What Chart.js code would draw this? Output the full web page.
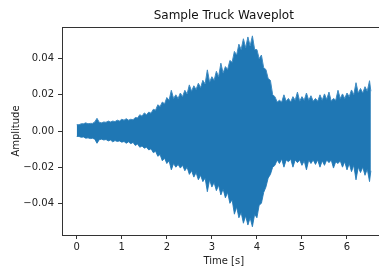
<!DOCTYPE html>
<html>
<head>
<meta charset="utf-8">
<script src="https://cdn.jsdelivr.net/npm/chart.js@4/dist/chart.umd.min.js"></script>
<style>
html,body{margin:0;padding:0;background:#fff;overflow:hidden;width:379px;height:268px;}
#wrap{position:absolute;left:0;top:0;width:390px;height:268px;}
</style>
</head>
<body>
<div id="wrap"><canvas id="c" width="390" height="268"></canvas></div>
<script>
const times = [0.00,0.05,0.10,0.15,0.20,0.25,0.30,0.35,0.40,0.45,0.50,0.55,0.60,0.65,0.70,0.75,0.80,0.85,0.90,0.95,
1.00,1.05,1.10,1.15,1.20,1.25,1.30,1.35,1.40,1.45,1.50,1.55,1.60,1.65,1.70,1.75,1.80,1.85,1.90,1.95,
2.00,2.05,2.10,2.15,2.20,2.25,2.30,2.35,2.40,2.45,2.50,2.55,2.60,2.65,2.70,2.75,2.80,2.85,2.90,2.95,
3.00,3.05,3.10,3.15,3.20,3.25,3.30,3.35,3.40,3.45,3.50,3.55,3.60,3.65,3.70,3.75,3.80,3.85,3.90,3.95,
4.00,4.05,4.10,4.15,4.20,4.25,4.30,4.35,4.40,4.45,4.50,4.55,4.60,4.65,4.70,4.75,4.80,4.85,4.90,4.95,
5.00,5.05,5.10,5.15,5.20,5.25,5.30,5.35,5.40,5.45,5.50,5.55,5.60,5.65,5.70,5.75,5.80,5.85,5.90,5.95,
6.00,6.05,6.10,6.15,6.20,6.25,6.30,6.35,6.40,6.45,6.50,6.53];
const upper = [0.0035,0.0035,0.004,0.004,0.0045,0.004,0.0042,0.0042,0.005,0.007,0.0048,0.0045,0.005,0.0048,0.0055,0.005,0.0055,0.0052,0.006,0.0055,
0.0065,0.006,0.0068,0.006,0.0065,0.0062,0.0075,0.0072,0.009,0.0082,0.010,0.009,0.0105,0.0098,0.012,0.0115,0.0145,0.0135,0.016,0.015,
0.0185,0.017,0.0225,0.018,0.020,0.018,0.021,0.019,0.0225,0.0205,0.0255,0.022,0.025,0.023,0.0264,0.024,0.028,0.026,0.0338,0.027,
0.030,0.028,0.033,0.030,0.0375,0.032,0.0356,0.034,0.039,0.038,0.044,0.042,0.048,0.045,0.051,0.046,0.052,0.047,0.0526,0.045,
0.045,0.040,0.042,0.035,0.034,0.029,0.028,0.020,0.019,0.016,0.017,0.016,0.020,0.0165,0.018,0.016,0.019,0.017,0.0215,0.0165,
0.019,0.017,0.021,0.017,0.0195,0.0165,0.018,0.0165,0.020,0.017,0.0205,0.0175,0.0215,0.0165,0.018,0.017,0.0225,0.018,0.0205,0.018,
0.021,0.019,0.0227,0.020,0.0267,0.021,0.0235,0.021,0.0245,0.022,0.0278,0.022];
const lower = [-0.003,-0.003,-0.0035,-0.0033,-0.004,-0.0038,-0.0042,-0.004,-0.0045,-0.0068,-0.0048,-0.0045,-0.005,-0.0047,-0.0055,-0.005,-0.006,-0.0053,-0.0058,-0.0055,
-0.0062,-0.0058,-0.0068,-0.006,-0.007,-0.0063,-0.008,-0.0072,-0.009,-0.0083,-0.0095,-0.009,-0.0105,-0.0098,-0.012,-0.0112,-0.014,-0.013,-0.0165,-0.015,
-0.018,-0.0165,-0.0215,-0.018,-0.020,-0.0185,-0.0205,-0.019,-0.022,-0.020,-0.024,-0.022,-0.0255,-0.023,-0.027,-0.0245,-0.028,-0.026,-0.0336,-0.027,
-0.031,-0.0285,-0.033,-0.030,-0.0354,-0.032,-0.037,-0.034,-0.040,-0.038,-0.046,-0.042,-0.048,-0.045,-0.051,-0.047,-0.052,-0.048,-0.053,-0.046,
-0.048,-0.041,-0.040,-0.034,-0.031,-0.026,-0.024,-0.020,-0.019,-0.016,-0.018,-0.0155,-0.020,-0.016,-0.017,-0.0155,-0.020,-0.016,-0.0175,-0.016,
-0.019,-0.0165,-0.0215,-0.016,-0.018,-0.016,-0.0185,-0.016,-0.020,-0.0165,-0.019,-0.016,-0.0175,-0.016,-0.0205,-0.017,-0.018,-0.0165,-0.020,-0.017,
-0.0215,-0.018,-0.0225,-0.019,-0.027,-0.020,-0.023,-0.020,-0.0245,-0.021,-0.028,-0.022];
const xTicks = [0,1,2,3,4,5,6];
const yTicks = [-0.04,-0.02,0.00,0.02,0.04];
const titleText = 'Sample Truck Waveplot';
const xLabel = 'Time [s]';
const yLabel = 'Amplitude';

const blue = '#1f77b4';
const frame = {
  id:'frame',
  afterDraw(chart){
    const {ctx, chartArea:a} = chart;
    ctx.save();
    ctx.strokeStyle = '#333';
    ctx.lineWidth = 1;
    ctx.strokeRect(Math.round(a.left)+0.5, Math.round(a.top)+0.5, Math.round(a.right-a.left), Math.round(a.bottom-a.top));
    ctx.fillStyle = '#111';
    ctx.font = '12px "DejaVu Sans"';
    ctx.textAlign = 'center';
    ctx.textBaseline = 'middle';
    ctx.fillText(titleText, (a.left+a.right)/2, 16);
    ctx.restore();
  }
};

new Chart(document.getElementById('c'), {
  type:'line',
  data:{
    datasets:[
      {data: times.map((t,i)=>({x:t,y:upper[i]})), borderColor:'#3f8bc2', backgroundColor:blue, borderWidth:1, pointRadius:0, fill:'+1', tension:0},
      {data: times.map((t,i)=>({x:t,y:lower[i]})), borderColor:'#3f8bc2', backgroundColor:blue, borderWidth:1, pointRadius:0, fill:false, tension:0}
    ]
  },
  options:{
    responsive:false,
    animation:false,
    devicePixelRatio:1,
    layout:{padding:{top:27,left:0,right:4.4,bottom:0}},
    plugins:{legend:{display:false},tooltip:{enabled:false},title:{display:false}},
    scales:{
      x:{
        type:'linear', min:-0.327, max:6.857,
        afterBuildTicks(s){ s.ticks = xTicks.map(v=>({value:v})); },
        afterFit(s){ s.height = 33; },
        grid:{drawOnChartArea:false, drawTicks:true, tickLength:4, color:'#333'},
        border:{display:false},
        ticks:{color:'#222', font:{family:'DejaVu Sans', size:10}, padding:2, maxRotation:0, callback:v=>String(v)},
        title:{display:true, text:xLabel, color:'#222', font:{family:'DejaVu Sans', size:10}, padding:{top:0,bottom:1}}
      },
      y:{
        type:'linear', min:-0.0575, max:0.0575,
        afterBuildTicks(s){ s.ticks = yTicks.map(v=>({value:v})); },
        afterFit(s){ s.width = 62; },
        grid:{drawOnChartArea:false, drawTicks:true, tickLength:4, color:'#333'},
        border:{display:false},
        ticks:{color:'#222', font:{family:'DejaVu Sans', size:10}, padding:4, callback:v=>(v<0?'\u2212':'')+Math.abs(v).toFixed(2)},
        title:{display:true, text:yLabel, color:'#222', font:{family:'DejaVu Sans', size:10}, padding:{top:10,bottom:0}}
      }
    }
  },
  plugins:[frame]
});
</script>
</body>
</html>
